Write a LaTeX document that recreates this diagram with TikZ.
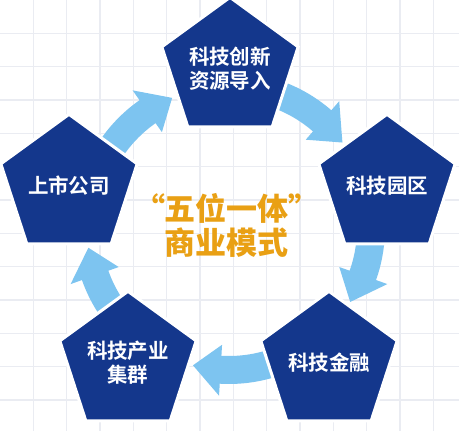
\documentclass[tikz,border=0pt]{standalone}
\usepackage{fontspec}
\usetikzlibrary{shapes.geometric}
\newfontfamily\cjkbold{Noto Sans CJK SC Bold}
\newfontfamily\cjkblack{Noto Sans CJK SC Black}
\definecolor{pentblue}{RGB}{20,55,140}
\definecolor{arrowc}{RGB}{125,196,240}
\definecolor{titlec}{RGB}{233,160,20}
\definecolor{gridc}{RGB}{234,236,242}
\begin{document}
\begin{tikzpicture}[x=1pt,y=1pt,
  pent/.style={regular polygon, regular polygon sides=5, minimum size=140pt, inner sep=0pt,
    fill=pentblue, draw=white, line width=3pt, text=white,
    font=\cjkbold\fontsize{20.5}{24}\selectfont, align=center},
  gridline/.style={draw=gridc, line width=1.3pt},
  blockarrow/.style={fill=arrowc},
  title/.style={text=titlec, font=\cjkblack\fontsize{31}{34}\selectfont, align=center, inner sep=0pt}]
\useasboundingbox (0,0) rectangle (459,431);
\fill[white] (0,0) rectangle (459,431);
% grid
\foreach \i in {1,...,13} \draw[gridline] ({\i*33.33},0) -- ({\i*33.33},431);
\foreach \j in {1,...,12} \draw[gridline] (0,{431-\j*33.33}) -- (459,{431-\j*33.33});
% curved block arrows around the centre
\begin{scope}[shift={(229,203)}]
\fill[blockarrow] (148:156pt) arc[start angle=148,end angle=125,radius=156pt] -- (125:168pt) -- (113.6:142pt) -- (125:117pt) -- (125:128pt) arc[start angle=125,end angle=148,radius=128pt] -- cycle;
\fill[blockarrow] (72:156pt) arc[start angle=72,end angle=49,radius=156pt] -- (49:168pt) -- (37:142pt) -- (49:117pt) -- (49:128pt) arc[start angle=49,end angle=72,radius=128pt] -- cycle;
\fill[blockarrow] (-2:156pt) arc[start angle=-2,end angle=-19.5,radius=156pt] -- (-19.5:168pt) -- (-31.4:142pt) -- (-19.5:117pt) -- (-19.5:128pt) arc[start angle=-19.5,end angle=-2,radius=128pt] -- cycle;
\fill[blockarrow] (-71:156pt) arc[start angle=-71,end angle=-93.4,radius=156pt] -- (-93.4:168pt) -- (-104.7:142pt) -- (-93.4:117pt) -- (-93.4:128pt) arc[start angle=-93.4,end angle=-71,radius=128pt] -- cycle;
\fill[blockarrow] (218:156pt) arc[start angle=218,end angle=199.5,radius=156pt] -- (199.5:168pt) -- (188:142pt) -- (199.5:117pt) -- (199.5:128pt) arc[start angle=199.5,end angle=218,radius=128pt] -- cycle;
\end{scope}
% pentagons
\node[pent] (innov) at (230,362) {科技创新\\资源导入};
\node[pent] (park) at (387,245) {科技园区};
\node[pent] (fin) at (329,68) {科技金融};
\node[pent] (cluster) at (128,68) {科技产业\\集群};
\node[pent] (listed) at (69,245) {上市公司};
% title
\node[title] (mode) at (227,206) {“五位一体”\\商业模式};
\end{tikzpicture}
\end{document}
